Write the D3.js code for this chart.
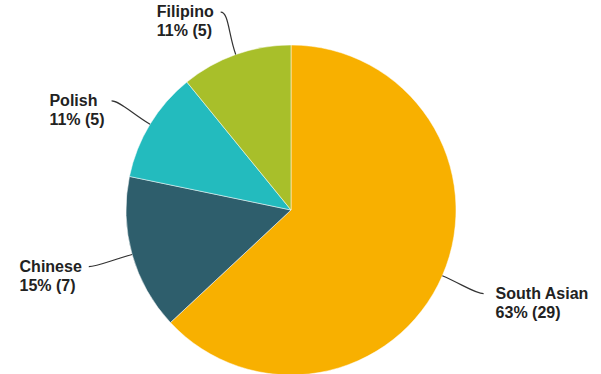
<!DOCTYPE html>
<html>
<head>
<meta charset="utf-8">
<script src="https://cdn.jsdelivr.net/npm/d3@7"></script>
<style>
  html, body { margin: 0; padding: 0; background: #fff; }
  svg { display: block; }
  text { font-family: "Liberation Sans", Arial, Helvetica, sans-serif; font-weight: bold; font-size: 16px; fill: #222; }
</style>
</head>
<body>
<svg id="chart" width="601" height="374"></svg>
<script>
// Ethnic group breakdown (counts)
const categories = ["South Asian", "Chinese", "Polish", "Filipino"];
const counts = [29, 7, 5, 5];
const colors = ["#F8B000", "#2E5E6C", "#23BBBE", "#A8BF2A"];

const width = 601, height = 374;
const cx = 291, cy = 210, radius = 165;
const labelRadius = 210;

const svg = d3.select("#chart");
const g = svg.append("g").attr("transform", `translate(${cx},${cy})`);

const data = categories.map((name, i) => ({ name, value: counts[i], color: colors[i] }));
const total = d3.sum(counts);

const pie = d3.pie().value(d => d.value).sort(null);
const arc = d3.arc().innerRadius(0).outerRadius(radius);
const arcs = pie(data);

g.selectAll("path.slice")
  .data(arcs)
  .join("path")
  .attr("class", "slice")
  .attr("d", arc)
  .attr("fill", d => d.data.color)
  .attr("stroke", "#fff")
  .attr("stroke-width", 0.5);

// point on a circle of radius r at angle a (d3.pie convention: 0 = 12 o'clock, clockwise)
const polar = (a, r) => [Math.sin(a) * r, -Math.cos(a) * r];

arcs.forEach(d => {
  const mid = (d.startAngle + d.endAngle) / 2;
  const right = Math.sin(mid) > 0;
  const p0 = polar(mid, radius);
  const c1 = polar(mid, radius + 22);
  const end = polar(mid, labelRadius);
  const c2 = [end[0] + (right ? -8 : 8), end[1]];

  const path = d3.path();
  path.moveTo(p0[0], p0[1]);
  path.bezierCurveTo(c1[0], c1[1], c2[0], c2[1], end[0], end[1]);
  g.append("path")
    .attr("d", path.toString())
    .attr("fill", "none")
    .attr("stroke", "#333")
    .attr("stroke-width", 1.2);

  const pct = Math.round(d.data.value / total * 100);
  const text = g.append("text").attr("y", end[1] + 5);
  const t1 = text.append("tspan").text(d.data.name);
  const t2 = text.append("tspan").attr("dy", 19).text(`${pct}% (${d.data.value})`);
  const w = Math.max(t1.node().getComputedTextLength(), t2.node().getComputedTextLength());
  const x = right ? end[0] + 12 : end[0] - 7 - w;
  t1.attr("x", x);
  t2.attr("x", x);
});
</script>
</body>
</html>
